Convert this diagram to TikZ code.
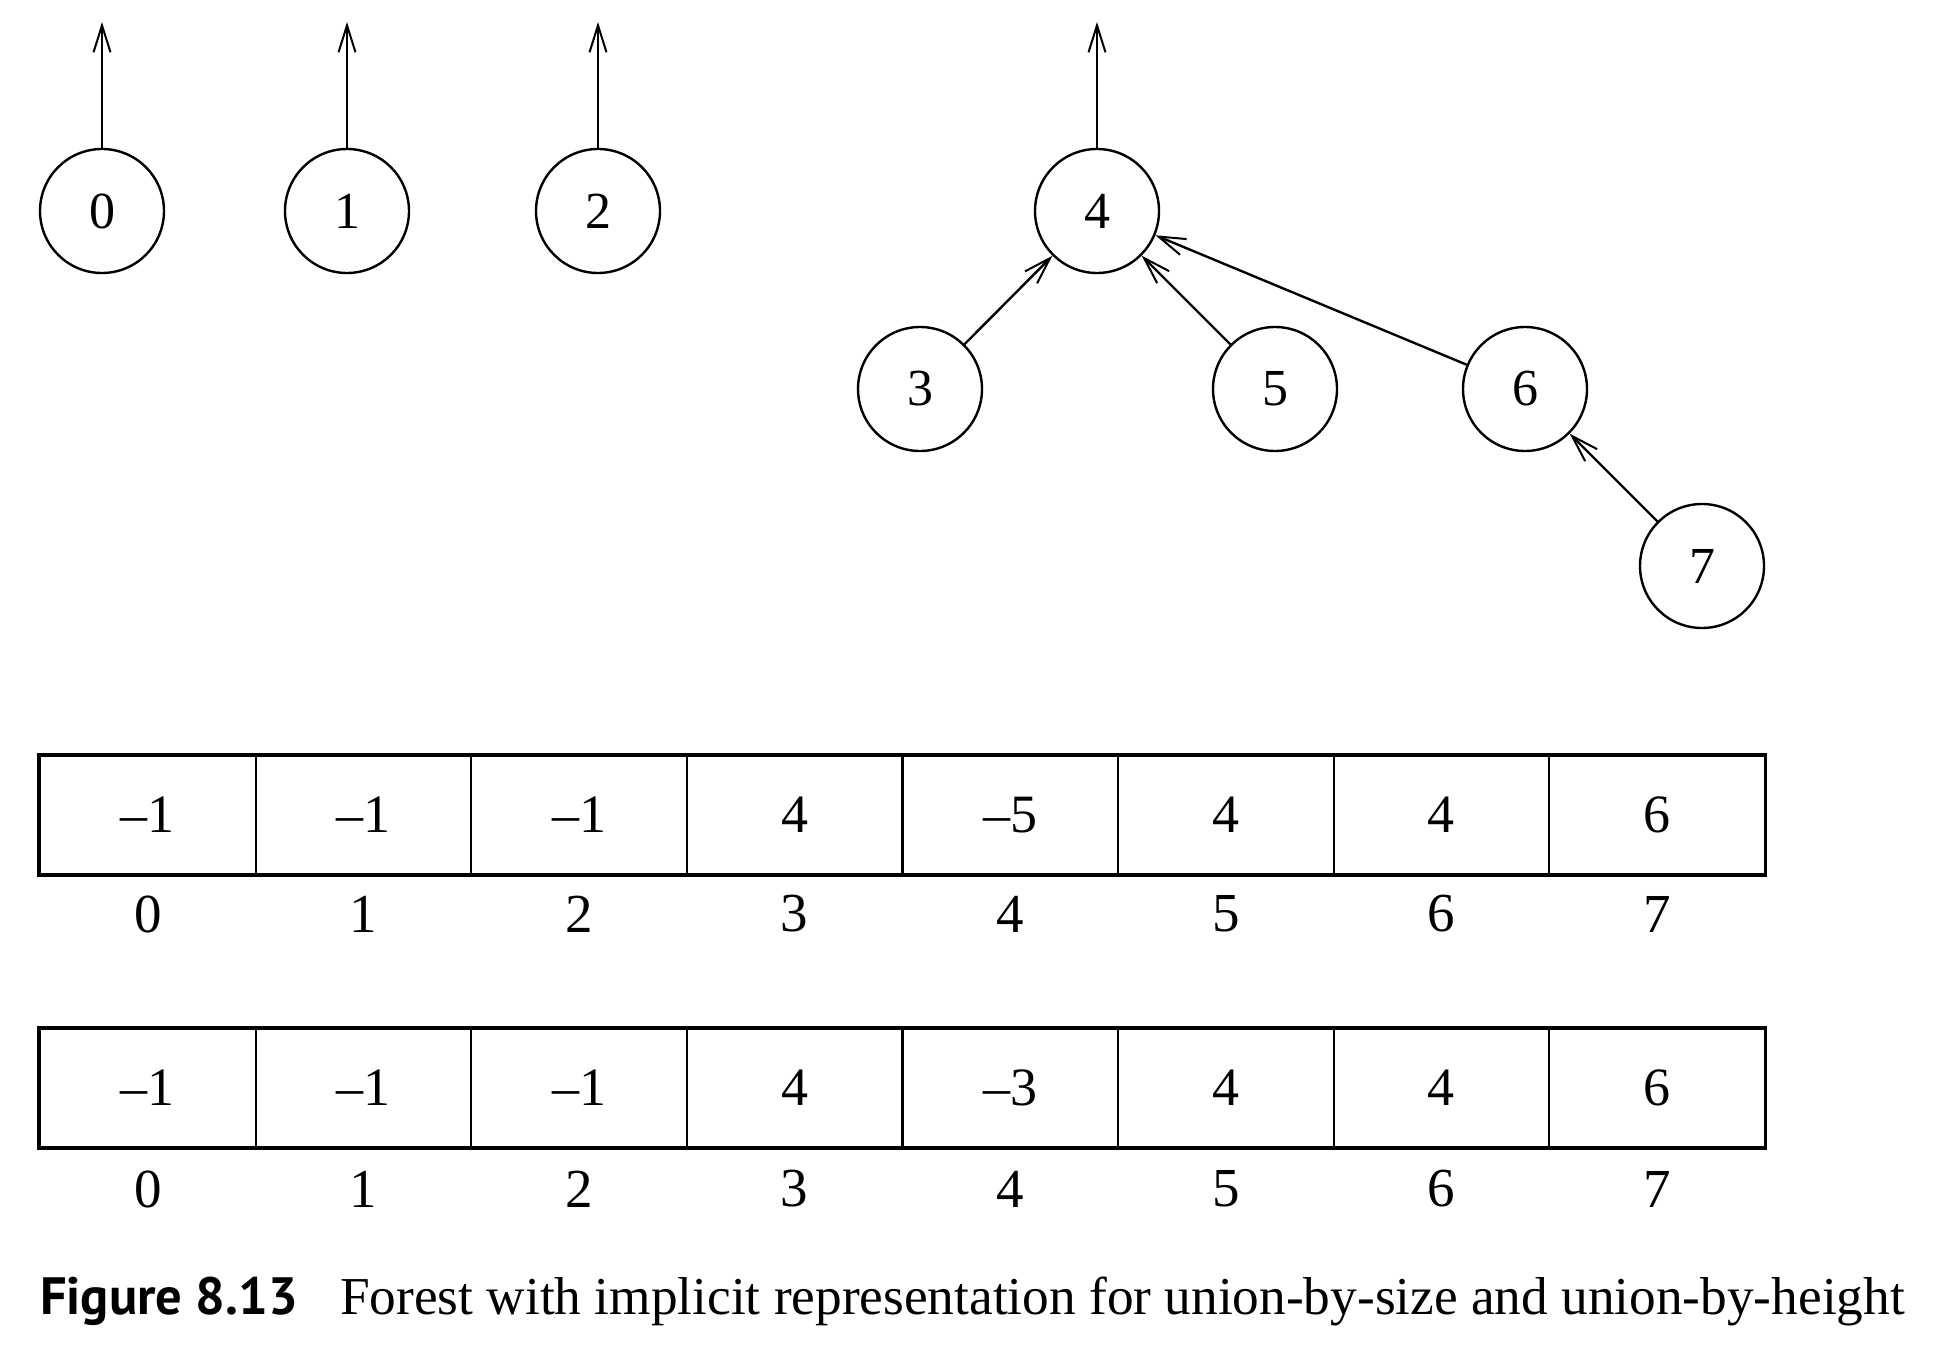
\documentclass[tikz,border=0pt]{standalone}
\usepackage{fontspec}
\setmainfont{Liberation Serif}
\newfontfamily\capsans{PT Sans}
\usetikzlibrary{arrows.meta}
\begin{document}
\begin{tikzpicture}[x=1pt,y=-1pt,
  vtx/.style={circle,draw,line width=2.4pt,minimum size=124pt,inner sep=0pt,font=\fontsize{52}{56}\selectfont},
  link/.style={line width=2.4pt,-{Straight Barb[length=27pt,width=17pt,line width=2pt]}},
  cell/.style={draw,line width=2.2pt,minimum width=215.6pt,minimum height=118pt,inner sep=0pt,font=\fontsize{54}{58}\selectfont},
  idx/.style={inner sep=0pt,font=\fontsize{55}{58}\selectfont},
  frame/.style={draw,line width=3pt}]
\useasboundingbox (0,0) rectangle (1938,1367);
% forest
\node[vtx] (n0) at (102,211) {0};
\node[vtx] (n1) at (347,211) {1};
\node[vtx] (n2) at (598,211) {2};
\node[vtx] (n4) at (1097,211) {4};
\node[vtx] (n3) at (920,389) {3};
\node[vtx] (n5) at (1275,389) {5};
\node[vtx] (n6) at (1525,389) {6};
\node[vtx] (n7) at (1702,566) {7};
\coordinate (t0) at (102,22);
\coordinate (t1) at (347,22);
\coordinate (t2) at (598,22);
\coordinate (t4) at (1097,22);
\draw[link] (n0) -- (t0);
\draw[link] (n1) -- (t1);
\draw[link] (n2) -- (t2);
\draw[link] (n4) -- (t4);
\draw[link] (n3) -- (n4);
\draw[link] (n5) -- (n4);
\draw[link] (n6) -- (n4);
\draw[link] (n7) -- (n6);
% arrays
\foreach \v [count=\i from 0] in {\textendash1,\textendash1,\textendash1,4,\textendash5,4,4,6}{
  \node[cell] (a\i) at ({40+215.6*(\i+0.5)},815) {\v};
  \node[idx] (ai\i) at ({40+215.6*(\i+0.5)},914) {\i};
}
\foreach \v [count=\i from 0] in {\textendash1,\textendash1,\textendash1,4,\textendash3,4,4,6}{
  \node[cell] (b\i) at ({40+215.6*(\i+0.5)},1088) {\v};
  \node[idx] (bi\i) at ({40+215.6*(\i+0.5)},1189) {\i};
}
\draw[frame] (a0.north west) rectangle (a7.south east);
\draw[frame] (b0.north west) rectangle (b7.south east);
% caption
\node[anchor=base west,inner sep=0pt,font=\capsans\bfseries\fontsize{52.5}{56}\selectfont] (capnum) at (40,1314) {Figure 8.13};
\node[anchor=base west,inner sep=0pt,font=\fontsize{53.3}{57}\selectfont] (captxt) at (340,1314) {Forest with implicit representation for union-by-size and union-by-height};
\end{tikzpicture}
\end{document}
